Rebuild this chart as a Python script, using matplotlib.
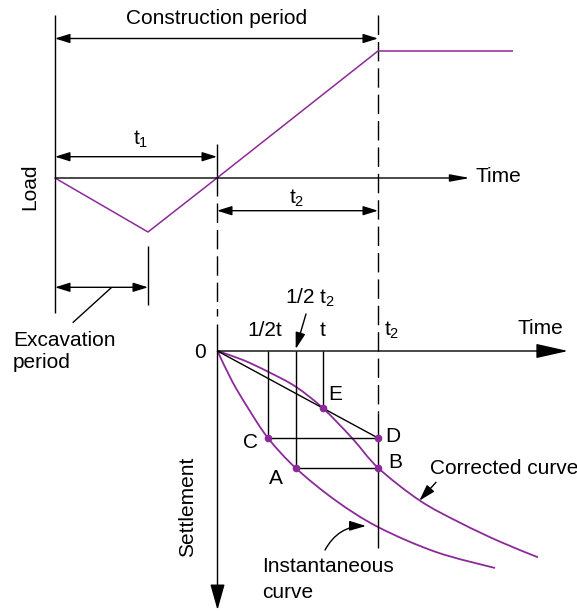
import numpy as np
import matplotlib
matplotlib.use('Agg')
import matplotlib.pyplot as plt
from matplotlib.path import Path
from matplotlib.patches import PathPatch

plt.rcParams['font.family'] = ['Liberation Sans', 'DejaVu Sans']
plt.rcParams['mathtext.fontset'] = 'custom'
plt.rcParams['mathtext.rm'] = 'Liberation Sans'

PURPLE = '#8b2a98'
FS = 15

# everything is in picture units (x right, y down)
# upper diagram: load against time
t_start, t_1, t_2 = 55, 217, 378
load_time = [55, 148, 217, 378, 513]
load_value = [178, 232, 178, 51, 51]
excavation_end = 148

# lower diagram: settlement against time
origin = (217.5, 351)
x_half_t, x_half_t2, x_t = 268, 295.7, 322.7
y_C, y_A, y_E = 438, 468, 408
points = {'C': (x_half_t, y_C), 'A': (x_half_t2, y_A), 'E': (x_t, y_E),
          'D': (t_2, y_C), 'B': (t_2, y_A)}

inst_x = [217.5, 232, 248, 268, 295.7, 335, 378, 436, 495]
inst_y = [351, 381, 408, 438, 468, 500, 527, 552, 568]
corr_x = [217.5, 243, 268, 295.7, 322.7, 352, 378.3, 420, 460, 500, 538]
corr_y = [351, 360, 371.7, 386.7, 408, 438, 468, 500.7, 522.7, 541.7, 557.3]


def smooth_path(xs, ys):
    # catmull-rom through the read points, drawn as bezier segments
    p = np.column_stack([xs, ys])
    verts = [p[0]]
    codes = [Path.MOVETO]
    for i in range(len(p) - 1):
        p0 = p[i - 1] if i > 0 else p[i]
        p3 = p[i + 2] if i + 2 < len(p) else p[i + 1]
        c1 = p[i] + (p[i + 1] - p0) / 6
        c2 = p[i + 1] - (p3 - p[i]) / 6
        verts += [c1, c2, p[i + 1]]
        codes += [Path.CURVE4] * 3
    return Path(verts, codes)


def line(ax, xs, ys, color='black', lw=1.0, dashed=False):
    l, = ax.plot(xs, ys, color=color, lw=lw, solid_capstyle='butt')
    if dashed:
        l.set_dashes((14, 5))
    return l


def arrow(ax, start, end, style='-|>,head_length=0.9,head_width=0.28', lw=1.0, conn='arc3'):
    ax.annotate('', xy=end, xytext=start,
                arrowprops=dict(arrowstyle=style, color='black', lw=lw,
                                shrinkA=0, shrinkB=0, mutation_scale=10,
                                connectionstyle=conn))


fig = plt.figure(figsize=(5.77, 6.13), dpi=100)
ax = fig.add_axes([0, 0, 1, 1])
ax.set_xlim(0, 577)
ax.set_ylim(613, 0)
ax.axis('off')

dbl = '<|-|>,head_length=0.9,head_width=0.28'

# ---- upper part
line(ax, [t_start, t_start], [15, 313])
line(ax, [t_2, t_2], [15, 413], dashed=True)
line(ax, [t_2, t_2], [413, 548])
line(ax, [t_1, t_1], [144, 196])
line(ax, [t_1, t_1], [203, 316], dashed=True)

arrow(ax, (t_start, 38.5), (t_2, 38.5), style=dbl)
ax.text((t_start + t_2) / 2, 18, 'Construction period', fontsize=FS, ha='center', va='center')

arrow(ax, (t_start, 178), (470, 178), style='-|>,head_length=1.2,head_width=0.22')
ax.text(475, 176, 'Time', fontsize=FS, ha='left', va='center')
ax.text(30, 187, 'Load', fontsize=FS, ha='center', va='center', rotation=90)

arrow(ax, (t_start, 156.7), (t_1, 156.7), style=dbl)
ax.text(141, 139, r'$\mathregular{t_1}$', fontsize=FS, ha='center', va='center')
arrow(ax, (t_1, 210.7), (t_2, 210.7), style=dbl)
ax.text(297, 198, r'$\mathregular{t_2}$', fontsize=FS, ha='center', va='center')

line(ax, load_time, load_value, color=PURPLE, lw=1.1)

line(ax, [excavation_end, excavation_end], [246, 305])
arrow(ax, (t_start, 287.3), (excavation_end, 287.3), style=dbl)
line(ax, [111.7, 72.7], [287.3, 322.7])
ax.text(13, 340, 'Excavation', fontsize=FS, ha='left', va='center')
ax.text(13, 363, 'period', fontsize=FS, ha='left', va='center')

# ---- lower part
ox, oy = origin
arrow(ax, (ox, oy), (568, oy), style='-|>,head_length=2.0,head_width=0.45')
arrow(ax, (ox, 325), (ox, 610), style='-|>,head_length=1.6,head_width=0.45')
ax.text(517, 328, 'Time', fontsize=FS, ha='left', va='center')
ax.text(200, 352, '0', fontsize=FS, ha='center', va='center')
ax.text(188, 507, 'Settlement', fontsize=FS, ha='center', va='center', rotation=90)

line(ax, [x_half_t, x_half_t], [oy, y_C])
line(ax, [x_half_t2, x_half_t2], [oy, y_A])
line(ax, [x_t, x_t], [oy, y_E])
line(ax, [x_half_t, t_2], [y_C, y_C])
line(ax, [x_half_t2, t_2], [y_A, y_A])
line(ax, [ox, t_2], [oy, y_C])

ax.add_patch(PathPatch(smooth_path(inst_x, inst_y), fill=False, ec=PURPLE, lw=1.3))
ax.add_patch(PathPatch(smooth_path(corr_x, corr_y), fill=False, ec=PURPLE, lw=1.3))
for name, (px, py) in points.items():
    ax.plot(px, py, 'o', color=PURPLE, ms=4.5, zorder=5)

ax.text(265, 330, '1/2t', fontsize=FS, ha='center', va='center')
ax.text(323, 330, 't', fontsize=FS, ha='center', va='center')
ax.text(392, 330, r'$\mathregular{t_2}$', fontsize=FS, ha='center', va='center')
ax.text(310, 298, r'1/2 $\mathregular{t_2}$', fontsize=FS, ha='center', va='center')
arrow(ax, (306, 314), (x_half_t2, 349), style='-|>,head_length=1.0,head_width=0.3')

ax.text(335, 395, 'E', fontsize=FS, ha='center', va='center')
ax.text(251, 442, 'C', fontsize=FS, ha='center', va='center')
ax.text(393, 437, 'D', fontsize=FS, ha='center', va='center')
ax.text(395, 463, 'B', fontsize=FS, ha='center', va='center')
ax.text(276, 478, 'A', fontsize=FS, ha='center', va='center')

ax.text(430, 469, 'Corrected curve', fontsize=FS, ha='left', va='center')
arrow(ax, (436, 482.3), (419.3, 500.7), style='-|>,head_length=1.0,head_width=0.3')
ax.text(262, 567, 'Instantaneous', fontsize=FS, ha='left', va='center')
ax.text(262, 593, 'curve', fontsize=FS, ha='left', va='center')
arrow(ax, (325, 550), (366, 526), style='-|>,head_length=1.0,head_width=0.3',
      conn='arc3,rad=-0.3')

fig.savefig('out.png', dpi=100)
